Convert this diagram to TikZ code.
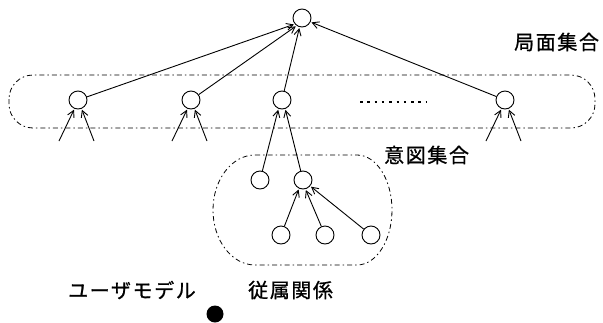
\documentclass[tikz,border=0pt]{standalone}
\usepackage{fontspec}
\newfontfamily\jp[LetterSpace=8,FakeBold=1]{Noto Sans CJK JP}
\usetikzlibrary{arrows.meta}
\begin{document}
\begin{tikzpicture}[x=1pt,y=-1pt,
  st/.style={circle,draw,line width=0.9pt,minimum size=18pt,inner sep=0pt},
  arr/.style={line width=0.9pt,-{Straight Barb[length=6.5pt,width=7pt]},shorten >=1pt},
  dd/.style={line width=0.8pt,dash pattern=on 5pt off 3pt on 1.5pt off 3pt},
  lbl/.style={font=\jp\fontsize{20}{20}\selectfont,anchor=west,inner sep=0pt}]
\useasboundingbox (0,0) rectangle (603,322);
% regions
\draw[dd,rounded corners=24pt] (9,75) rectangle (595,128);
\draw[dd] (255,155) -- (357,155)
  arc[start angle=-90,end angle=90,x radius=35,y radius=55]
  -- (255,265)
  arc[start angle=90,end angle=270,x radius=42,y radius=55];
% nodes
\node[st] (top) at (302,18) {};
\node[st] (n1) at (78,100) {};
\node[st] (n2) at (191,100) {};
\node[st] (n3) at (282,100) {};
\node[st] (n5) at (505,100) {};
\node[st] (l1) at (260,180) {};
\node[st] (l2) at (303,180) {};
\node[st] (b1) at (281,235) {};
\node[st] (b2) at (325,235) {};
\node[st] (b3) at (371,235) {};
\node[circle,fill=black,minimum size=17pt,inner sep=0pt] (dot) at (215,314) {};
% dots
\coordinate (d1) at (360,102);
\coordinate (d2) at (427,102);
\draw[line width=1.3pt,dash pattern=on 2.5pt off 4.8pt] (d1) -- (d2);
% arrows to top
\draw[arr] (n1) -- (top.-140);
\draw[arr] (n2) -- (top.-125);
\draw[arr] (n3) -- (top.-105);
\draw[arr] (n5) -- (top.-25);
% short arrows
\foreach \n/\x in {n1/78,n2/191,n5/505}{
  \coordinate (\n la) at (\x-19,141);
  \coordinate (\n ra) at (\x+16,141);
  \draw[arr] (\n la) -- (\n.-112);
  \draw[arr] (\n ra) -- (\n.-68);
}
% lower arrows
\draw[arr] (l1) -- (n3.-112);
\draw[arr] (l2) -- (n3.-70);
\draw[arr] (b1) -- (l2.-115);
\draw[arr] (b2) -- (l2.-75);
\draw[arr] (b3) -- (l2.-40);
% labels
\node[lbl] (t1) at (514,42) {局面集合};
\node[lbl] (t2) at (384,155) {意図集合};
\node[lbl] (t3) at (68,290) {ユーザモデル};
\node[lbl] (t4) at (248,290) {従属関係};
\end{tikzpicture}
\end{document}
